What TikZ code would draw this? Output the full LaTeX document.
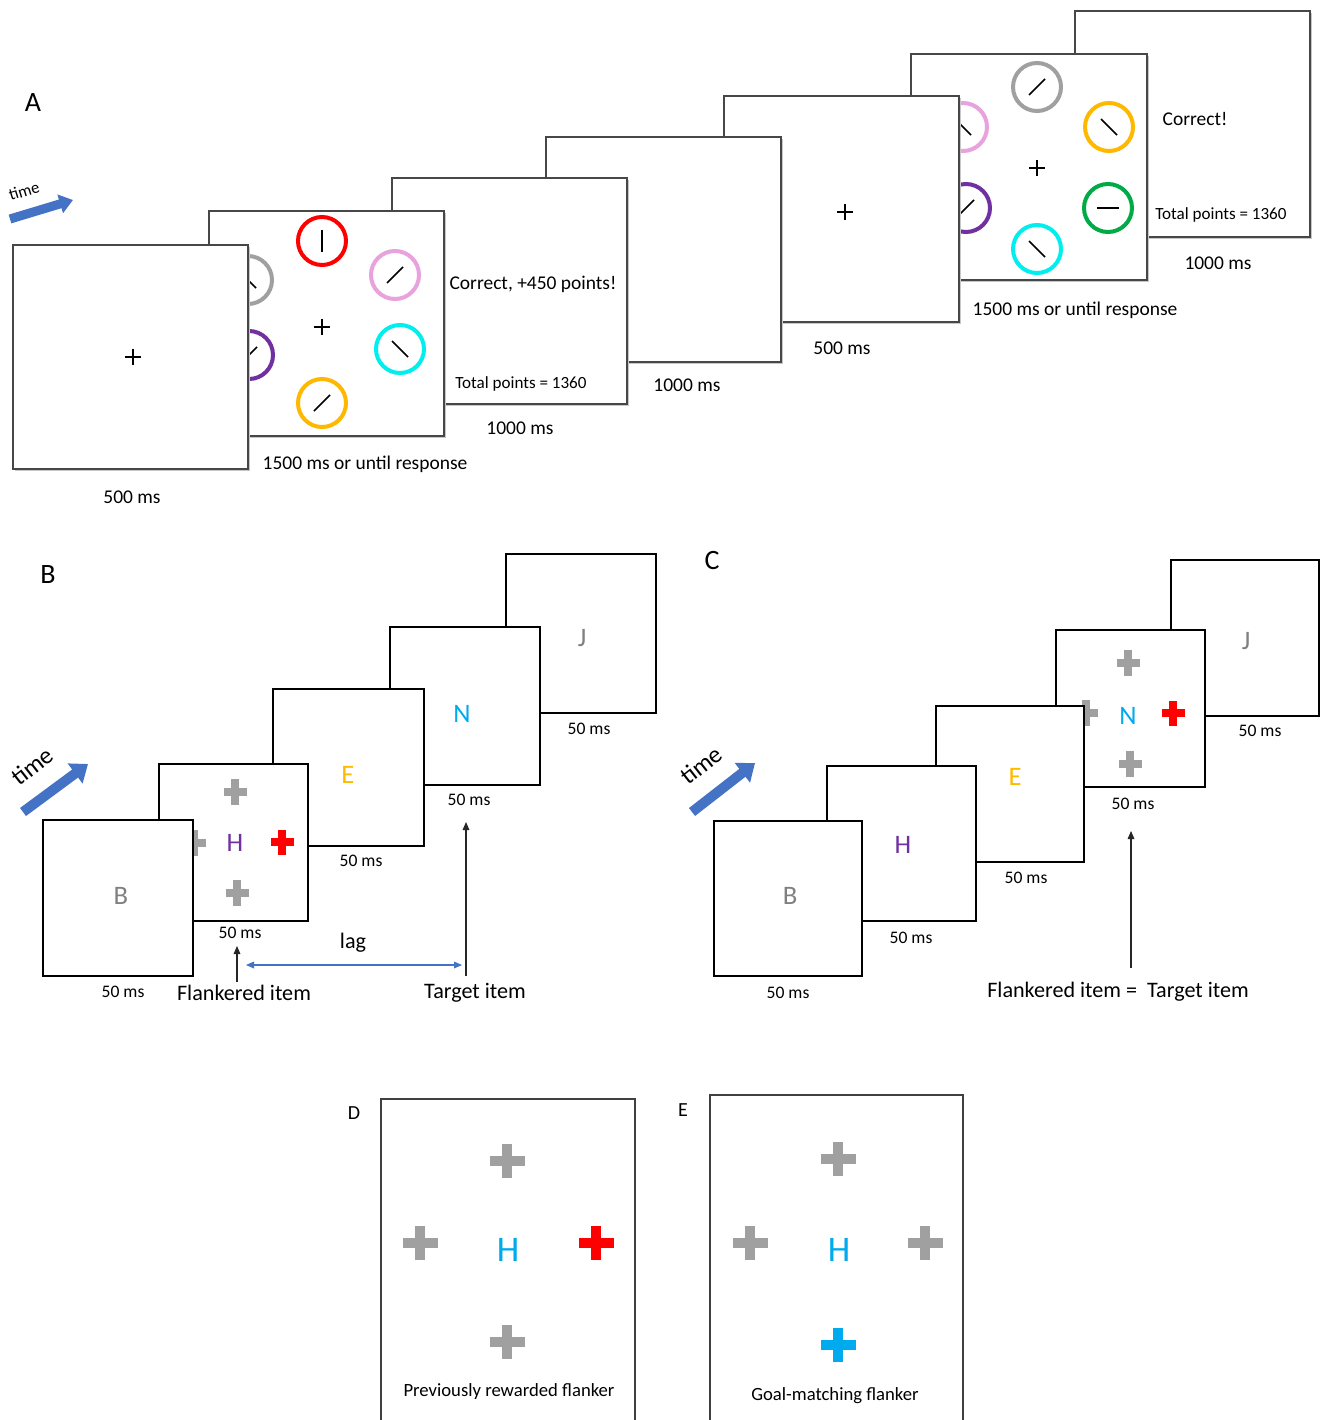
\documentclass[tikz,border=0pt]{standalone}
\usepackage{fontspec}
\setmainfont{Carlito}
\usetikzlibrary{arrows.meta}
\definecolor{cRed}{RGB}{255,0,0}
\definecolor{cPink}{RGB}{232,162,222}
\definecolor{cCyan}{RGB}{0,238,238}
\definecolor{cGold}{RGB}{255,184,0}
\definecolor{cGray}{RGB}{160,160,160}
\definecolor{cPurple}{RGB}{112,48,160}
\definecolor{cGreen}{RGB}{0,170,70}
\definecolor{cBlue}{RGB}{0,170,238}
\definecolor{cOrange}{RGB}{255,186,0}
\definecolor{tBlue}{RGB}{68,114,196}
\definecolor{lGray}{RGB}{128,128,128}
\tikzset{
  scrA/.style={draw=black!72, line width=1.1pt, fill=white},
  shadowA/.style={fill=black!22},
  scrB/.style={draw=black, line width=1.5pt, fill=white},
  scrD/.style={draw=black!75, line width=1.2pt},
  txtA/.style={inner sep=0pt, font=\fontsize{14.6}{17}\selectfont},
  txtS/.style={inner sep=0pt, font=\fontsize{12.8}{15}\selectfont},
  panel/.style={inner sep=0pt, font=\fontsize{21}{24}\selectfont},
  panelS/.style={inner sep=0pt, font=\fontsize{15}{18}\selectfont},
  ms/.style={inner sep=0pt, font=\fontsize{13.2}{15}\selectfont},
  lab/.style={inner sep=0pt, font=\fontsize{16.6}{19}\selectfont},
  letter/.style={inner sep=0pt, font=\fontsize{20}{24}\selectfont},
  bigletter/.style={inner sep=0pt, font=\fontsize{27}{30}\selectfont},
  capt/.style={inner sep=0pt, font=\fontsize{14}{17}\selectfont},
  timetxt/.style={inner sep=0pt, font=\fontsize{18.5}{21}\selectfont},
  tarrowA/.style={tBlue, line width=6.8pt, -{Triangle[length=10pt,width=14pt]}},
  tarrowB/.style={tBlue, line width=7.5pt, -{Triangle[length=12pt,width=18pt]}},
  ptr/.style={black!85, line width=0.8pt, -{Triangle[length=6pt,width=5pt]}},
  lagarrow/.style={tBlue, line width=0.9pt, {Triangle[length=6pt,width=5pt]}-{Triangle[length=6pt,width=5pt]}},
}
\newcommand{\mydial}[5]{%
  \draw[line width=3pt,#3] (#1,#2) circle[radius=18pt];
  \draw[line width=1.1pt] ({#1-(#4)},{#2-(#5)}) -- ({#1+(#4)},{#2+(#5)});
}
% cx cy half-width half-height half-thickness colour
\newcommand{\myflank}[6]{%
  \fill[#6] ({#1-(#3)},{#2-(#5)}) rectangle ({#1+(#3)},{#2+(#5)});
  \fill[#6] ({#1-(#5)},{#2-(#4)}) rectangle ({#1+(#5)},{#2+(#4)});
}
\newcommand{\myfix}[2]{%
  \draw[line width=1.4pt] ({#1-8},#2) -- ({#1+8},#2) (#1,{#2-8}) -- (#1,{#2+8});
}
\begin{document}
\begin{tikzpicture}[x=0.75pt,y=-0.75pt]
\useasboundingbox[fill=white] (0,0) rectangle (1321,1420);

% ================= Panel A =================
\node[panel] (labA) at (33,103) {A};
\coordinate (ta0) at (10,219);
\coordinate (ta1) at (73,200);
\draw[tarrowA] (ta0) -- (ta1);
\node[inner sep=0pt, font=\fontsize{12.5}{14}\selectfont, rotate=17] (timeA) at (24,191) {time};

% screen 7
\fill[shadowA] (1077,13) rectangle (1312,239);
\draw[scrA] (1075,11) rectangle (1310,237);
\node[txtA] (corr7) at (1195,119) {Correct!};
\node[txtS] (tot7) at (1221,215) {Total points = 1360};
% screen 6
\fill[shadowA] (913,56) rectangle (1149,282);
\draw[scrA] (911,54) rectangle (1147,280);
\mydial{1037}{87}{cGray}{8}{-8}
\mydial{1109}{127}{cGold}{8}{8}
\mydial{1108}{208}{cGreen}{11}{0}
\mydial{1037}{249}{cCyan}{8}{8}
\mydial{963}{127}{cPink}{8}{8}
\mydial{966}{208}{cPurple}{8}{-8}
\myfix{1037}{168}
% screen 5
\fill[shadowA] (726,98) rectangle (961,324);
\draw[scrA] (724,96) rectangle (959,322);
\myfix{845}{212}
% screen 4
\fill[shadowA] (548,139) rectangle (783,364);
\draw[scrA] (546,137) rectangle (781,362);
% screen 3
\fill[shadowA] (394,180) rectangle (629,406);
\draw[scrA] (392,178) rectangle (627,404);
\node[txtA] (corr3) at (533,284) {Correct, +450 points!};
\node[txtS] (tot3) at (521,384) {Total points = 1360};
% screen 2
\fill[shadowA] (211,213) rectangle (446,438);
\draw[scrA] (209,211) rectangle (444,436);
\mydial{322}{241}{cRed}{0}{11}
\mydial{395}{275}{cPink}{8}{-8}
\mydial{400}{349}{cCyan}{8}{8}
\mydial{322}{403}{cGold}{8}{-8}
\mydial{248}{280}{cGray}{8}{8}
\mydial{249}{355}{cPurple}{8}{-8}
\myfix{322}{327}
% screen 1
\fill[shadowA] (15,247) rectangle (250,471);
\draw[scrA] (13,245) rectangle (248,469);
\myfix{133}{357}

\node[txtA] (d1) at (132,497) {500 ms};
\node[txtA] (d2) at (365,464) {1500 ms or until response};
\node[txtA] (d3) at (520,428) {1000 ms};
\node[txtA] (d4) at (687,385) {1000 ms};
\node[txtA] (d5) at (842,348) {500 ms};
\node[txtA] (d6) at (1075,310) {1500 ms or until response};
\node[txtA] (d7) at (1218,263) {1000 ms};

% ================= Panel B =================
\node[panel] (labB) at (48,575) {B};
\coordinate (tb0) at (23,812);
\coordinate (tb1) at (88,764);
\draw[tarrowB] (tb0) -- (tb1);
\node[timetxt, rotate=38] (timeB) at (32,766) {time};

\draw[scrB] (506,554) rectangle (656,713);
\node[letter, lGray] (bJ) at (582,638) {J};
\draw[scrB] (390,627) rectangle (540,785);
\node[letter, cBlue] (bN) at (462,714) {N};
\draw[scrB] (273,689) rectangle (424,846);
\node[letter, cOrange] (bE) at (348,775) {E};
\draw[scrB] (159,764) rectangle (308,921);
\myflank{235}{792}{11.5}{13}{4}{cGray}
\myflank{237}{893}{11.5}{13}{4}{cGray}
\myflank{194}{843}{11.5}{13}{4}{cGray}
\myflank{282}{842}{11.5}{12.5}{4}{cRed}
\node[letter, cPurple] (bH) at (235,843) {H};
\draw[scrB] (43,820) rectangle (193,976);
\node[letter, lGray] (bB) at (121,896) {B};

\node[ms] (b1) at (123,992) {50 ms};
\node[ms] (b2) at (240,933) {50 ms};
\node[ms] (b3) at (361,861) {50 ms};
\node[ms] (b4) at (469,800) {50 ms};
\node[ms] (b5) at (589,729) {50 ms};

\node[lab] (flank) at (244,993) {Flankered item};
\node[lab] (targ) at (475,993) {Target item};
\node[lab] (lag) at (353,943) {lag};
\coordinate (fa0) at (237,982);
\coordinate (fa1) at (237,946);
\draw[ptr] (fa0) -- (fa1);
\coordinate (tg0) at (466,976);
\coordinate (tg1) at (466,822);
\draw[ptr] (tg0) -- (tg1);
\coordinate (lg0) at (246,965);
\coordinate (lg1) at (462,965);
\draw[lagarrow] (lg0) -- (lg1);

% ================= Panel C =================
\node[panel] (labC) at (712,561) {C};
\coordinate (tc0) at (692,812);
\coordinate (tc1) at (755,763);
\draw[tarrowB] (tc0) -- (tc1);
\node[timetxt, rotate=38] (timeC) at (701,765) {time};

\draw[scrB] (1171,560) rectangle (1319,716);
\node[letter, lGray] (cJ) at (1246,641) {J};
\draw[scrB] (1056,630) rectangle (1205,787);
\myflank{1128}{663}{11.5}{13}{4}{cGray}
\myflank{1130}{764}{11.5}{13}{4}{cGray}
\myflank{1086}{713}{11.5}{13}{4}{cGray}
\myflank{1173}{713}{11.5}{12.5}{4}{cRed}
\node[letter, cBlue] (cN) at (1128,716) {N};
\draw[scrB] (936,706) rectangle (1084,862);
\node[letter, cOrange] (cE) at (1015,777) {E};
\draw[scrB] (827,766) rectangle (976,921);
\node[letter, cPurple] (cH) at (903,845) {H};
\draw[scrB] (714,821) rectangle (862,976);
\node[letter, lGray] (cB) at (790,896) {B};

\node[ms] (c1) at (788,993) {50 ms};
\node[ms] (c2) at (911,938) {50 ms};
\node[ms] (c3) at (1026,878) {50 ms};
\node[ms] (c4) at (1133,804) {50 ms};
\node[ms] (c5) at (1260,731) {50 ms};

\node[lab] (ft) at (1118,992) {Flankered item =~~Target item};
\coordinate (ca0) at (1131,968);
\coordinate (ca1) at (1131,831);
\draw[ptr] (ca0) -- (ca1);

% ================= Panels D and E =================
\node[panelS] (labD) at (354,1113) {D};
\draw[scrD] (381,1099) rectangle (635,1430);
\myflank{507}{1161}{17.5}{17}{5}{cGray}
\myflank{420}{1243}{17.5}{17}{5}{cGray}
\myflank{507}{1342}{17.5}{17}{5}{cGray}
\myflank{596}{1243}{17.5}{17}{5}{cRed}
\node[bigletter, cBlue] (dH) at (508,1250) {H};
\node[capt] (dcap) at (509,1392) {Previously rewarded flanker};

\node[panelS] (labE) at (683,1110) {E};
\draw[scrD] (710,1095) rectangle (963,1430);
\myflank{838}{1159}{17.5}{17}{5}{cGray}
\myflank{750}{1243}{17.5}{17}{5}{cGray}
\myflank{925}{1243}{17.5}{17}{5}{cGray}
\myflank{838}{1345}{17.5}{17}{5}{cBlue}
\node[bigletter, cBlue] (eH) at (839,1250) {H};
\node[capt] (ecap) at (835,1396) {Goal-matching flanker};
\end{tikzpicture}
\end{document}
